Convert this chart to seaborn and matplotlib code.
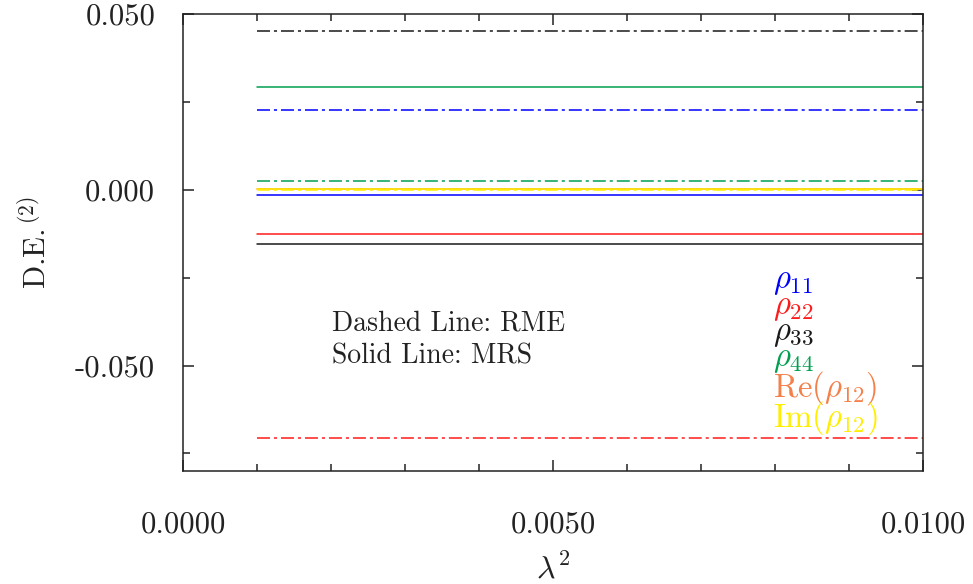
import numpy as np
import pandas as pd
import matplotlib
matplotlib.use("Agg")
import matplotlib.pyplot as plt
import seaborn as sns
from matplotlib.ticker import MultipleLocator, FuncFormatter

sns.set_theme(style="white")
plt.rcParams["font.family"] = ["cmr10", "DejaVu Serif"]
plt.rcParams["mathtext.fontset"] = "cm"
plt.rcParams["axes.unicode_minus"] = False
plt.rcParams["axes.formatter.use_mathtext"] = False

# ---- data ----
lambda2 = [0.001, 0.010]
quantities = ["rho11", "rho22", "rho33", "rho44", "Re_rho12", "Im_rho12"]
labels = [r"$\rho_{11}$", r"$\rho_{22}$", r"$\rho_{33}$", r"$\rho_{44}$",
          r"$\mathrm{Re}(\rho_{12})$", r"$\mathrm{Im}(\rho_{12})$"]
colors = ["#0000ff", "#ff1a1a", "#1a1a1a", "#00a050", "#f4804a", "#ffee00"]
# RME (dash-dotted)
rme_values = [0.0226, -0.0707, 0.0452, 0.0026, 0.0001, 0.0000]
# MRS (solid)
mrs_values = [-0.0014, -0.0127, -0.0153, 0.0293, 0.0003, 0.0002]

rows = []
for q, vr, vm in zip(quantities, rme_values, mrs_values):
    for x in lambda2:
        rows.append({"lambda2": x, "value": vr, "quantity": q, "method": "RME"})
        rows.append({"lambda2": x, "value": vm, "quantity": q, "method": "MRS"})
df = pd.DataFrame(rows)

fig = plt.figure(figsize=(9.73, 5.84), dpi=100)
ax = fig.add_axes([183 / 973, 1 - 471 / 584, (923 - 183) / 973, (471 - 14) / 584])

sns.lineplot(data=df, x="lambda2", y="value", hue="quantity", style="method",
             hue_order=quantities, palette=dict(zip(quantities, colors)),
             style_order=["MRS", "RME"],
             dashes={"MRS": "", "RME": (8.5, 2.6, 2.0, 2.6)},
             linewidth=1.1, legend=False, ax=ax, estimator=None)

ax.set_xlim(0.0, 0.0100)
ax.set_ylim(-0.080, 0.050)
ax.xaxis.set_major_locator(MultipleLocator(0.005))
ax.xaxis.set_minor_locator(MultipleLocator(0.001))
ax.yaxis.set_major_locator(MultipleLocator(0.05))
ax.yaxis.set_minor_locator(MultipleLocator(0.025))
ax.xaxis.set_major_formatter(FuncFormatter(lambda v, p: f"{v:.4f}"))
ax.yaxis.set_major_formatter(FuncFormatter(lambda v, p: ("-" if v < -1e-12 else "") + f"{abs(v):.3f}"))

ax.tick_params(which="both", direction="in", top=True, right=True, bottom=True, left=True,
               width=1.1, color="#222222", labelsize=22, labelcolor="#222222")
ax.tick_params(which="major", length=8)
ax.tick_params(which="minor", length=5)
ax.tick_params(axis="x", which="major", pad=29)
ax.tick_params(axis="y", which="major", pad=20)
for s in ax.spines.values():
    s.set_linewidth(1.1)
    s.set_color("#222222")

ax.set_xlabel(r"$\lambda^2$", fontsize=23, color="#222222", labelpad=10)
ax.set_ylabel(r"D.E.$^{\,(2)}$", fontsize=22, color="#222222", labelpad=17)

ax.text(0.00202, -0.0380, "Dashed Line: RME", fontsize=20, color="#222222", va="center")
ax.text(0.00202, -0.0474, "Solid Line: MRS", fontsize=20, color="#222222", va="center")

label_y = [-0.0263, -0.0337, -0.0411, -0.0486, -0.0563, -0.0649]
for lab, c, yy in zip(labels, colors, label_y):
    ax.text(0.00797, yy, lab, fontsize=23.5, color=c, va="center", ha="left")

fig.savefig("out.png", dpi=100)
